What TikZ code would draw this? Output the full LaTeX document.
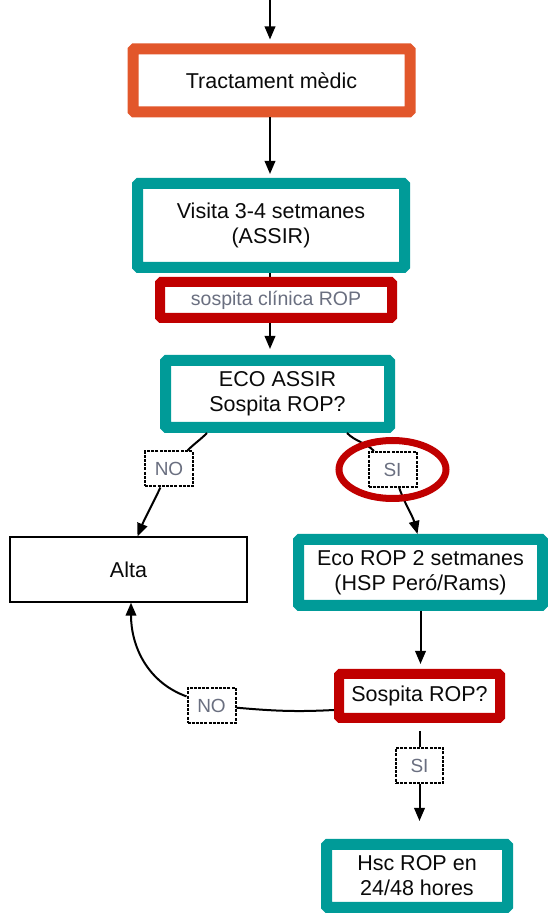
\documentclass[tikz,border=0pt]{standalone}
\usepackage{fontspec}
\setmainfont{Liberation Sans}
\usetikzlibrary{arrows.meta}
\definecolor{tealc}{HTML}{009B98}
\definecolor{orangec}{HTML}{E2572B}
\definecolor{redc}{HTML}{C00000}
\definecolor{labgray}{HTML}{6A6F80}
\definecolor{textdark}{HTML}{0A0A0A}
\begin{document}
\begin{tikzpicture}[x=1pt,y=1pt,
  box/.style={draw,rectangle,fill=white,line width=11pt,rounded corners=1.5pt,
    align=center,inner sep=0pt,text=textdark,font=\fontsize{21.5}{25}\selectfont},
  tealbox/.style={box,draw=tealc},
  redbox/.style={box,draw=redc,line width=10pt},
  lab/.style={draw,dash pattern=on 3pt off 1.2pt,line width=2pt,fill=white,
    text=labgray,inner sep=0pt,minimum width=48pt,minimum height=35pt,
    font=\fontsize{19}{22}\selectfont},
  link/.style={line width=2pt},
  flow/.style={link,-{Triangle[length=13pt,width=10.5pt]}}
]
\useasboundingbox (0,0) rectangle (548,914);

% top of the chain
\coordinate (top) at (270,914);
\node[box,draw=orangec,minimum width=277pt,minimum height=63pt] (tract) at (271.5,833.5) {Tractament mèdic};
\draw[flow,shorten >=4pt] (top) -- (top |- tract.north);

\node[tealbox,minimum width=267pt,minimum height=84pt] (visita) at (271,688.5) {Visita 3-4 setmanes\\(ASSIR)};
\draw[flow,shorten >=4pt] (tract.south -| top) -- (visita.north -| top);

\node[tealbox,minimum width=224pt,minimum height=67pt] (eco) at (277.5,520) {ECO ASSIR\\Sospita ROP?};
\draw[flow,shorten >=6pt] (visita.south -| top) -- (eco.north -| top);
\node[redbox,minimum width=232pt,minimum height=36pt,text=labgray,
  font=\fontsize{19.5}{22}\selectfont] (clin) at (276,614) {sospita clínica ROP};

% two branches
\node[box,draw=black,line width=1.3pt,sharp corners,minimum width=237pt,minimum height=65pt] (alta) at (128.5,344.5) {Alta};
\node[tealbox,minimum width=244pt,minimum height=66pt] (ecorop) at (420.5,341.5) {Eco ROP 2 setmanes\\(HSP Peró/Rams)};

\node[lab] (no1) at (169,445) {NO};
\node[lab] (si1) at (392.5,444.5) {SI};
\draw[link] ([xshift=-70.5pt]eco.south) to[out=-135,in=45] (no1);
\draw[flow] (no1) to[out=-115,in=68] ([xshift=9pt]alta.north);
\draw[link] ([xshift=69.5pt]eco.south) to[out=-45,in=135] (si1);
\draw[flow] (si1) to[out=-70,in=105] ([xshift=-3pt]ecorop.north);
\draw[redc,line width=7pt] (si1) ellipse[x radius=53.5pt,y radius=29pt];

% second check
\node[redbox,minimum width=161pt,minimum height=44pt] (sosp) at (419.5,218) {Sospita ROP?};
\draw[flow,shorten >=5pt] (ecorop.south) -- (ecorop.south |- sosp.north);

\node[lab] (no2) at (211.5,208.5) {NO};
\draw[link] ([yshift=-14pt]sosp.west) to[out=183,in=-5] (no2);
\draw[flow] (no2) to[out=160,in=-90] ([xshift=2.5pt]alta.south);

\node[tealbox,minimum width=181pt,minimum height=63pt] (hsc) at (417,38) {Hsc ROP en\\24/48 hores};
\node[lab,minimum width=47pt] (si2) at (419.5,148.5) {SI};
\draw[link,shorten <=8pt] (sosp.south) -- (si2);
\draw[flow,shorten >=18pt] (si2) -- (si2 |- hsc.north);
\end{tikzpicture}
\end{document}
